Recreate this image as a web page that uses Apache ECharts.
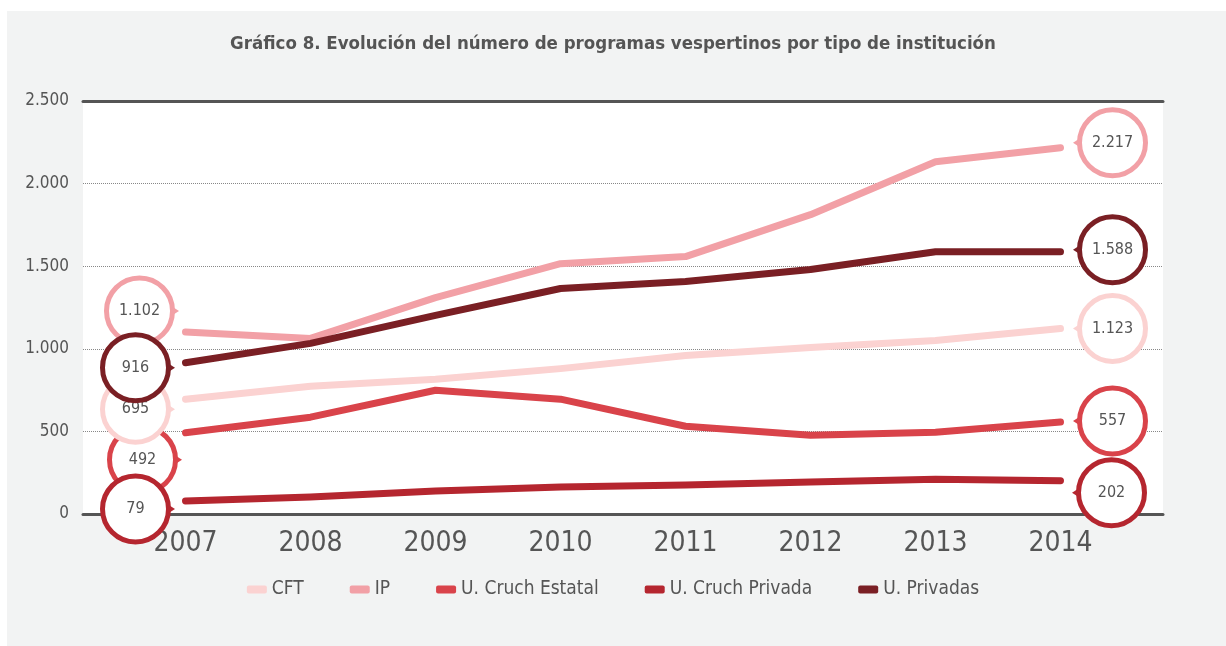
<!DOCTYPE html>
<html>
<head>
<meta charset="utf-8">
<script src="https://cdn.jsdelivr.net/npm/echarts@6/dist/echarts.min.js"></script>
<style>
  body { margin: 0; background: #ffffff; }
  #panel { position: absolute; left: 7px; top: 11px; right: 0; bottom: 0; background: #f2f3f3; }
  #main { position: absolute; left: 0; top: 0; width: 1226px; height: 646px; }
</style>
</head>
<body>
<div id="panel"></div>
<div id="main"></div>
<script>
var years = [2007, 2008, 2009, 2010, 2011, 2012, 2013, 2014];
var names = ['CFT', 'IP', 'U. Cruch Estatal', 'U. Cruch Privada', 'U. Privadas'];
var cft = [695, 773, 815, 880, 960, 1008, 1050, 1123];
var ip = [1102, 1063, 1310, 1515, 1558, 1812, 2132, 2217];
var cruchEstatal = [492, 586, 749, 695, 531, 477, 495, 557];
var cruchPrivada = [79, 103, 139, 163, 175, 193, 211, 202];
var privadas = [916, 1033, 1202, 1365, 1407, 1480, 1588, 1588];
var colors = ['#fbd2d1', '#f2a0a6', '#d9434a', '#b5262f', '#7a1f24'];

var allValues = [cft, ip, cruchEstatal, cruchPrivada, privadas];
// desplazamiento de las burbujas (inicio, fin)
var startOffset = [[-50, 10], [-46, -21], [-43, 27], [-50, 8], [-50, 5]];
var endOffset = [[52, 0], [52, -5], [52, -1], [51, 12], [52, -2]];
var zOrder = [3, 1, 2, 5, 4];

function fmt(v) {
  return String(v).replace(/\B(?=(\d{3})+(?!\d))/g, '.');
}

var font = "'DejaVu Sans Condensed', 'Liberation Sans Narrow', sans-serif";

function bubble(year, value, off, color, arrowLeft) {
  return [{
    coord: [year, value],
    symbol: 'circle',
    symbolSize: 66,
    symbolOffset: off,
    itemStyle: { color: '#ffffff', borderColor: color, borderWidth: 5 },
    label: {
      show: true, position: 'inside',
      formatter: fmt(value), color: '#555', fontSize: 16, fontFamily: font
    }
  }, {
    coord: [year, value],
    symbol: 'triangle',
    symbolSize: [9, 7],
    symbolRotate: arrowLeft ? 90 : -90,
    symbolOffset: [off[0] + (arrowLeft ? -36 : 36), off[1]],
    itemStyle: { color: color },
    label: { show: false }
  }];
}

var series = names.map(function (n, i) {
  var vals = allValues[i];
  var last = vals.length - 1;
  return {
    name: n,
    type: 'line',
    z: zOrder[i],
    data: years.map(function (y, k) { return [y, vals[k]]; }),
    showSymbol: false,
    lineStyle: { width: 7, color: colors[i], cap: 'round', join: 'round' },
    itemStyle: { color: colors[i] },
    markPoint: {
      silent: true,
      z: 10 + zOrder[i],
      data: bubble(years[0], vals[0], startOffset[i], colors[i], false)
        .concat(bubble(years[last], vals[last], endOffset[i], colors[i], true))
    }
  };
});

var chart = echarts.init(document.getElementById('main'));
chart.setOption({
  animation: false,
  title: {
    text: 'Gráfico 8. Evolución del número de programas vespertinos por tipo de institución',
    left: 'center', top: 30,
    textStyle: { color: '#555', fontSize: 18.5, fontWeight: 'bold', fontFamily: font }
  },
  legend: {
    bottom: 42, left: 'center',
    itemWidth: 20, itemHeight: 8, itemGap: 46,
    icon: 'roundRect',
    textStyle: { color: '#555', fontSize: 19, fontFamily: font },
    data: names
  },
  grid: {
    left: 83, right: 63, top: 101, bottom: 132,
    show: true, backgroundColor: '#ffffff', borderWidth: 0
  },
  xAxis: [{
    type: 'value', min: 2006.18, max: 2014.82,
    splitLine: { show: false },
    axisTick: { show: false },
    axisLine: { show: true, onZero: false, lineStyle: { color: '#555', width: 3 } },
    axisLabel: {
      customValues: years, formatter: function (v) { return String(v); },
      color: '#555', fontSize: 28, fontFamily: font, margin: 16
    }
  }, {
    type: 'value', position: 'top', min: 2006.18, max: 2014.82,
    splitLine: { show: false }, axisTick: { show: false }, axisLabel: { show: false },
    axisLine: { show: true, onZero: false, lineStyle: { color: '#555', width: 3 } }
  }],
  yAxis: {
    type: 'value', min: 0, max: 2500, interval: 500,
    axisLine: { show: false }, axisTick: { show: false },
    axisLabel: { formatter: fmt, color: '#555', fontSize: 17, fontFamily: font, margin: 14 },
    splitLine: { lineStyle: { color: '#888', type: 'dotted', width: 1 } }
  },
  series: series
});
</script>
</body>
</html>
